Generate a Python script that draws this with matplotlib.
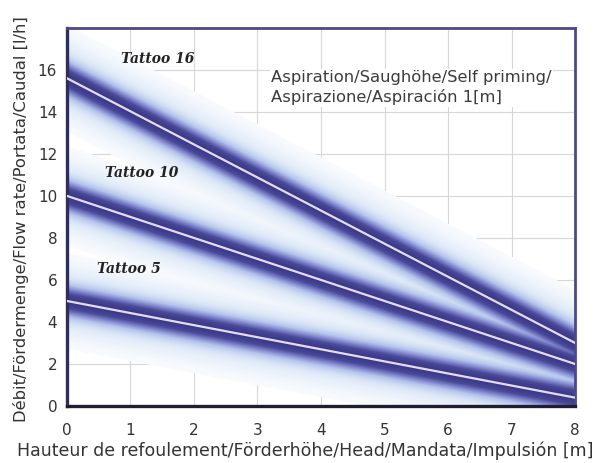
import numpy as np
import matplotlib.pyplot as plt
from matplotlib.colors import LinearSegmentedColormap

# --- Дані ---
head = [0, 8]
models = ['Tattoo 16', 'Tattoo 10', 'Tattoo 5']
flow_16 = [15.6, 3.0]
flow_10 = [10.0, 2.0]
flow_5 = [5.0, 0.4]
flows = [flow_16, flow_10, flow_5]
label_pos = [(0.85, 16.5), (0.6, 11.1), (0.48, 6.5)]

x_ticks = [0, 1, 2, 3, 4, 5, 6, 7, 8]
y_ticks = [0, 2, 4, 6, 8, 10, 12, 14, 16]

note = 'Aspiration/Saughöhe/Self priming/\nAspirazione/Aspiración 1[m]'
xlabel = 'Hauteur de refoulement/Förderhöhe/Head/Mandata/Impulsión [m]'
ylabel = 'Débit/Fördermenge/Flow rate/Portata/Caudal [l/h]'

# --- Кольори світіння ---
glow = LinearSegmentedColormap.from_list(
    'glow', ['#ffffff', '#dde8f7', '#b4c4ec', '#7f84cc', '#4a4a9a', '#3a3a88'])

fig = plt.figure(figsize=(6.08, 4.63), dpi=100)
ax = fig.add_axes([0.110, 0.123, 0.836, 0.817])
ax.set_xlim(0, 8)
ax.set_ylim(0, 18)

ax.grid(True, color='#d6d6dc', linewidth=0.8)
ax.set_axisbelow(True)

# шари світіння: від широкого світлого до вузького темного
dists = np.linspace(34, 1.0, 66)
for d in dists:
    t = 0.72 * np.exp(-(d / 10) ** 2) + 0.28 * np.exp(-(d / 24) ** 2)
    for fl in flows:
        ax.plot(head, fl, color=glow(t), linewidth=2 * d,
                solid_capstyle='projecting', zorder=2)

for fl in flows:
    ax.plot(head, fl, color='#e6daf4', linewidth=1.6,
            solid_capstyle='projecting', zorder=3)

for name, (lx, ly) in zip(models, label_pos):
    ax.text(lx, ly, name, fontsize=10, fontweight='bold', fontstyle='italic',
            family='DejaVu Serif', color='#222222', va='center', zorder=5)

ax.text(3.22, 15.15, note, fontsize=11.8, color='#3c3c3c', va='center',
        linespacing=1.35, zorder=5,
        bbox=dict(facecolor='white', edgecolor='none', pad=1))

ax.set_xticks(x_ticks)
ax.set_yticks(y_ticks)
ax.tick_params(axis='both', length=0, labelsize=11, colors='#333333')
ax.tick_params(axis='x', pad=12)
ax.tick_params(axis='y', pad=7)

ax.set_xlabel(xlabel, fontsize=12.5, color='#333333')
ax.xaxis.set_label_coords(0.469, -0.095)
ax.set_ylabel(ylabel, fontsize=11.8, color='#333333')
ax.yaxis.set_label_coords(-0.075, 0.495)

for side in ['left', 'bottom']:
    ax.spines[side].set_linewidth(2.4)
ax.spines['left'].set_color('#2e2e5a')
ax.spines['bottom'].set_color('#1e1e30')
for side in ['top', 'right']:
    ax.spines[side].set_linewidth(2.0)
    ax.spines[side].set_color('#4a4a86')

fig.savefig('out.png', dpi=100)
